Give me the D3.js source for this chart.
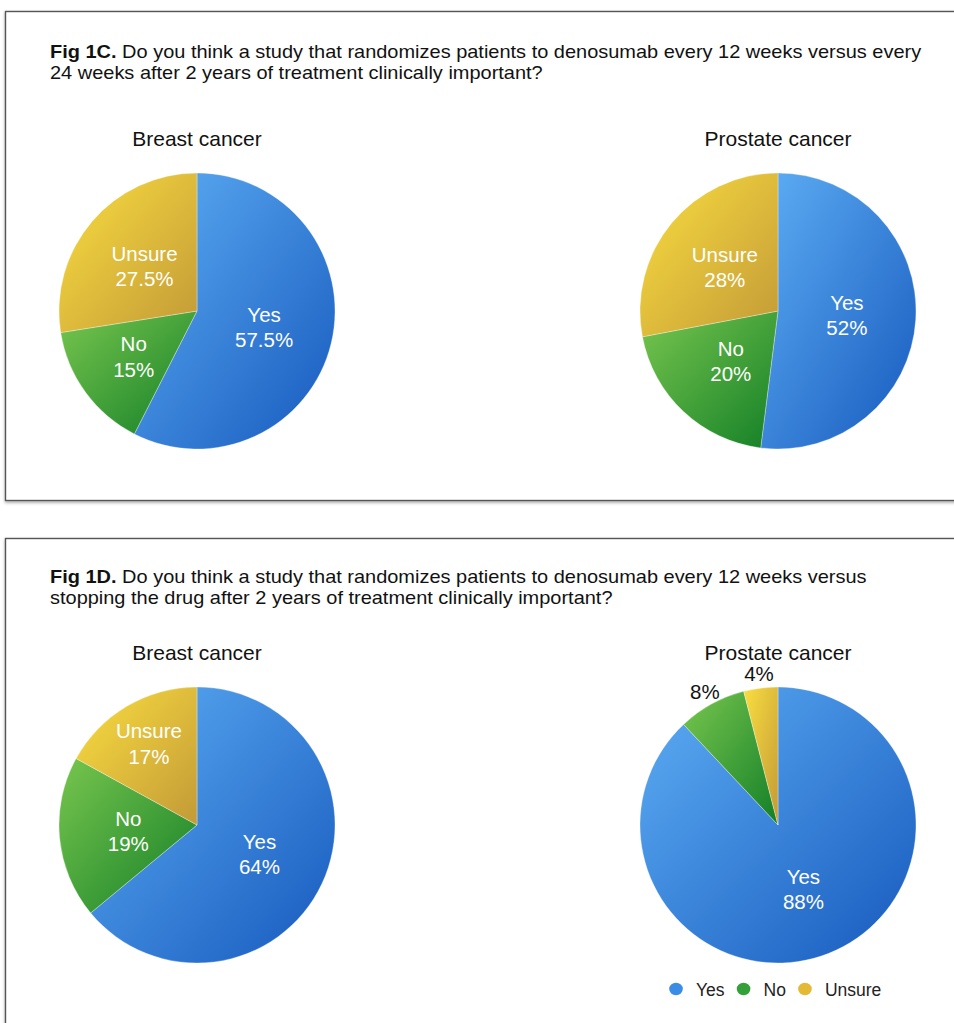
<!DOCTYPE html>
<html>
<head>
<meta charset="utf-8">
<script src="https://cdn.jsdelivr.net/npm/d3@7/dist/d3.min.js"></script>
<style>
  html, body { margin: 0; padding: 0; background: #fff; }
  svg { display: block; font-family: "Liberation Sans", Arial, Helvetica, sans-serif; }
</style>
</head>
<body>
<svg id="chart" width="954" height="1023"></svg>
<script>
// Survey answers (percent of respondents)
const categories = ["Yes", "No", "Unsure"];
const breast1C   = [57.5, 15, 27.5];
const prostate1C = [52, 20, 28];
const breast1D   = [64, 19, 17];
const prostate1D = [88, 8, 4];

const groupNames = ["Breast cancer", "Prostate cancer"];
const figTags = ["Fig 1C.", "Fig 1D."];
const questions = [
  [" Do you think a study that randomizes patients to denosumab every 12 weeks versus every",
   "24 weeks after 2 years of treatment clinically important?"],
  [" Do you think a study that randomizes patients to denosumab every 12 weeks versus",
   "stopping the drug after 2 years of treatment clinically important?"]
];

// Panel geometry
const panels = [
  { top: 11, height: 489, titleY: 58, titleW: 872, subY: 146, pieY: 311,
    series: [breast1C, prostate1C] },
  { top: 538, height: 520, titleY: 583, titleW: 817, subY: 660, pieY: 825,
    series: [breast1D, prostate1D] }
];
const pieX = [197, 778];
const R = 138;

const svg = d3.select("#chart");
const defs = svg.append("defs");

// soft shadow under the panel frames
const shadow = defs.append("filter").attr("id", "frameShadow")
  .attr("x", "-5%").attr("y", "-5%").attr("width", "110%").attr("height", "110%");
shadow.append("feDropShadow").attr("dx", 0).attr("dy", 1.5)
  .attr("stdDeviation", 1.6).attr("flood-color", "#000").attr("flood-opacity", 0.35);

// slice shading: light at upper-left of each wedge, darker toward lower-right
const shades = {
  Yes:    ["#5eaef5", "#1659bd"],
  No:     ["#78c64e", "#137f27"],
  Unsure: ["#fade40", "#c39a37"]
};
const legendColor = d3.scaleOrdinal().domain(categories)
  .range(["#3a8ce5", "#33a03a", "#e4b935"]);

categories.forEach(c => {
  const g = defs.append("linearGradient").attr("id", "grad-" + c)
    .attr("x1", 0).attr("y1", 0).attr("x2", 1).attr("y2", 1);
  g.append("stop").attr("offset", "0%").attr("stop-color", shades[c][0]);
  g.append("stop").attr("offset", "100%").attr("stop-color", shades[c][1]);
});

const pie = d3.pie().sort(null).value(d => d.value);
const arc = d3.arc().innerRadius(0).outerRadius(R);

panels.forEach((p, pi) => {
  // frame
  svg.append("rect")
    .attr("x", 5.5).attr("y", p.top + 0.5)
    .attr("width", 980).attr("height", p.height)
    .attr("fill", "#fff").attr("stroke", "#555").attr("stroke-width", 1.4)
    .attr("filter", "url(#frameShadow)");

  // question text, fitted to its line width
  const title = svg.append("g");
  const t1 = title.append("text").attr("x", 0).attr("y", p.titleY)
    .attr("font-size", 17.5).attr("fill", "#111");
  t1.append("tspan").attr("font-weight", "bold").text(figTags[pi]);
  t1.append("tspan").text(questions[pi][0]);
  title.append("text").attr("x", 0).attr("y", p.titleY + 21)
    .attr("font-size", 17.5).attr("fill", "#111").text(questions[pi][1]);
  const w = t1.node().getComputedTextLength();
  title.attr("transform", `translate(50,0) scale(${p.titleW / w},1)`);

  p.series.forEach((vals, si) => {
    const cx = pieX[si], cy = p.pieY;
    const data = categories.map((c, i) => ({ cat: c, value: vals[i] }));
    const arcs = pie(data);
    const g = svg.append("g").attr("transform", `translate(${cx},${cy})`);

    svg.append("text")
      .attr("x", cx).attr("y", p.subY)
      .attr("text-anchor", "middle").attr("font-size", 21).attr("fill", "#111")
      .text(groupNames[si]);

    g.selectAll("path.slice").data(arcs).join("path")
      .attr("class", "slice")
      .attr("d", arc)
      .attr("fill", d => `url(#grad-${d.data.cat})`)
      .attr("stroke", "rgba(255,255,255,0.45)")
      .attr("stroke-width", 0.7);

    arcs.forEach(a => {
      const mid = (a.startAngle + a.endAngle) / 2;
      const half = (a.endAngle - a.startAngle) / 2;
      const pct = a.data.value + "%";
      if (a.data.value < 10) {
        // small wedges: percentage outside the rim
        const d = R * 1.1;
        g.append("text")
          .attr("x", Math.sin(mid) * d).attr("y", -Math.cos(mid) * d + 7)
          .attr("text-anchor", "middle").attr("font-size", 20.5).attr("fill", "#111")
          .text(pct);
        return;
      }
      const lab = g.append("text").attr("text-anchor", "middle")
        .attr("font-size", 20.5).attr("fill", "#fff");
      const l1 = lab.append("tspan").attr("x", 0).attr("dy", 0).text(a.data.cat);
      const l2 = lab.append("tspan").attr("x", 0).attr("dy", 25.5).text(pct);
      const tw = Math.max(l1.node().getComputedTextLength(), l2.node().getComputedTextLength());
      // push the label outward until it fits inside the wedge
      const d = Math.max(R * 0.5, (tw / 2 + 15) / Math.sin(Math.min(half, Math.PI / 2)));
      lab.attr("transform",
        `translate(${Math.sin(mid) * d},${-Math.cos(mid) * d - 5.5})`);
    });
  });
});

// legend
const legend = svg.append("g").attr("transform", "translate(676,989)");
let lx = 0;
categories.forEach(c => {
  legend.append("ellipse").attr("cx", lx).attr("cy", 0).attr("rx", 6.8).attr("ry", 6.2)
    .attr("fill", legendColor(c));
  const t = legend.append("text").attr("x", lx + 20).attr("y", 6.5)
    .attr("font-size", 17.5).attr("fill", "#222").text(c);
  lx += 20 + t.node().getComputedTextLength() + 19;
});
</script>
</body>
</html>
